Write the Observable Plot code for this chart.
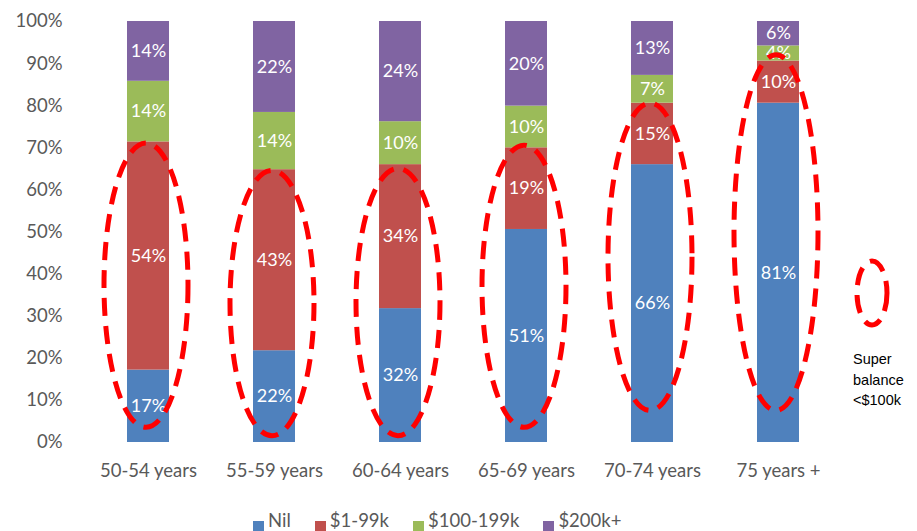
<!DOCTYPE html>
<html>
<head>
<meta charset="utf-8">
<script src="https://cdn.jsdelivr.net/npm/d3@7"></script>
<script src="https://cdn.jsdelivr.net/npm/@observablehq/plot@0.6"></script>
<style>
  body { margin: 0; background: #fff; font-family: Lato, "Open Sans", sans-serif; overflow: hidden; }
  #wrap { position: relative; width: 917px; height: 531px; overflow: hidden; }
  #legend { position: absolute; left: 253px; top: 509px; display: flex; gap: 24px; font-size: 18.5px; line-height: 22px; color: #595959; font-family: Lato, sans-serif; }
  #legend span.item { display: flex; align-items: flex-start; }
  #legend span.sw { display: inline-block; width: 11px; height: 11px; margin-right: 4px; margin-top: 12px; }
</style>
</head>
<body>
<div id="wrap"><div id="chart"></div><div id="legend"></div></div>
<script>
const categories = ["50-54 years", "55-59 years", "60-64 years", "65-69 years", "70-74 years", "75 years +"];
const seriesNames = ["Nil", "$1-99k", "$100-199k", "$200k+"];
const seriesColors = ["#4F81BD", "#C0504D", "#9BBB59", "#8064A2"];
const nil  = [17.2, 21.8, 31.8, 50.6, 66.0, 80.6];
const low  = [54.2, 43.0, 34.2, 19.4, 14.6, 10.0];
const mid  = [14.4, 13.6, 10.2,  9.9,  6.6,  3.6];
const high = [14.2, 21.6, 23.8, 20.1, 12.8,  5.8];
const yTicks = [0, 10, 20, 30, 40, 50, 60, 70, 80, 90, 100];
// ellipse vertical extent (in %) around the "< $100k" portion
const ellipseTop    = [71, 64.5, 65, 70.5, 80.5, 92];
const ellipseBottom = [3.5, 1.5, 1.5, 3.5, 7.5, 7.5];

const seriesValues = [nil, low, mid, high];
const data = [];
seriesNames.forEach((s, si) => categories.forEach((c, ci) => data.push({category: c, series: s, value: seriesValues[si][ci]})));

const chart = Plot.plot({
  width: 917,
  height: 500,
  marginTop: 21,
  marginBottom: 58,
  marginLeft: 83,
  marginRight: 74,
  style: {fontFamily: "Lato, 'Open Sans', sans-serif", fontSize: "18.5px", color: "#595959", background: "#fff"},
  x: {domain: categories, paddingInner: 0.67, paddingOuter: 0.33, label: null, tickSize: 0, tickPadding: 21},
  y: {domain: [0, 100], ticks: yTicks, tickFormat: d => d + "%", label: null, tickSize: 0, tickPadding: 21},
  color: {domain: seriesNames, range: seriesColors},
  marks: [
    Plot.ruleY(yTicks, {stroke: "#d9d9d9", strokeWidth: 1.5, x1: 83, x2: 841}),
    Plot.barY(data, Plot.stackY({x: "category", y: "value", z: "series", fill: "series", order: null})),
    Plot.text(data, Plot.stackY({x: "category", y: "value", z: "series", order: null, text: d => Math.round(d.value) + "%", fill: "white", fontSize: 18}))
  ]
});
document.getElementById("chart").appendChild(chart);

// dashed ellipses using the chart scales
const xs = chart.scale("x"), ys = chart.scale("y");
const svg = d3.select(chart);
const bw = xs.bandwidth;
const g = svg.append("g");
categories.forEach((c, i) => {
  const cx = xs.apply(c) + bw / 2 - 2;
  const yt = ys.apply(ellipseTop[i]), yb = ys.apply(ellipseBottom[i]);
  g.append("ellipse")
    .attr("cx", cx).attr("cy", (yt + yb) / 2)
    .attr("rx", bw).attr("ry", (yb - yt) / 2)
    .attr("fill", "none").attr("stroke", "#FF0000").attr("stroke-width", 5)
    .attr("stroke-dasharray", "18 10");
});
// ellipse legend
svg.append("ellipse").attr("cx", 872).attr("cy", 293).attr("rx", 15).attr("ry", 32)
  .attr("fill", "none").attr("stroke", "#FF0000").attr("stroke-width", 5).attr("stroke-dasharray", "18 10");
const lt = svg.append("text").attr("font-family", "'Liberation Sans', Arial, sans-serif").attr("font-size", 14.5)
  .attr("fill", "#000").attr("text-anchor", "start");
["Super", "balance", "<$100k"].forEach((t, i) => lt.append("tspan").attr("x", 853).attr("y", 364 + i * 20.5).text(t));

// bottom legend
const legend = d3.select("#legend");
seriesNames.forEach((s, i) => {
  const it = legend.append("span").attr("class", "item");
  it.append("span").attr("class", "sw").style("background", seriesColors[i]);
  it.append("span").text(s);
});
</script>
</body>
</html>
